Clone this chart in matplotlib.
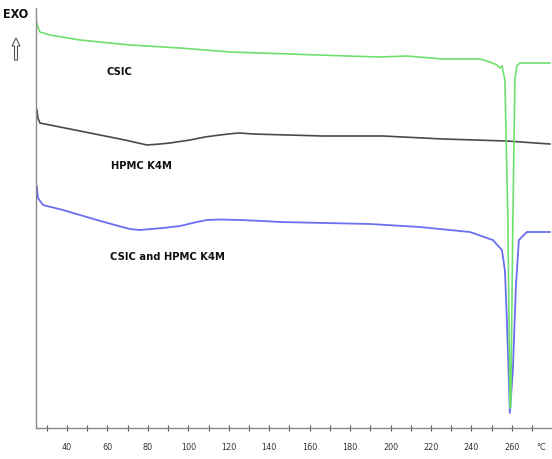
import matplotlib
matplotlib.use("Agg")
import matplotlib.pyplot as plt
from matplotlib.patches import FancyArrow

# Temperature (°C) and heat flow (arbitrary units)
csic_T = [24.68, 25.66, 26.65, 31.60, 46.43, 71.14, 95.86, 120.57, 150.23, 178.41,
          194.72, 208.07, 225.86, 244.15, 249.09, 252.56, 254.04, 255.03, 256.51,
          257.99, 258.98, 259.23, 259.47, 260.46, 261.45, 262.4, 263.92, 278.75]
csic_v = [40.8, 40.1, 39.6, 39.3, 38.8, 38.3, 38.0, 37.6, 37.4, 37.2,
          37.1, 37.2, 36.9, 36.9, 36.6, 36.3, 36.0, 36.2, 34.8,
          20.8, 2.8, 2.0, 2.8, 20.8, 34.8, 36.2, 36.5, 36.5]

hpmc_T = [25.17, 25.66, 26.65, 36.54, 56.31, 68.67, 79.55, 85.97, 90.9, 100.80,
          108.2, 115.63, 122.06, 125.5, 131.94, 166.54, 196.20, 225.86, 257.50, 278.75]
hpmc_v = [31.8, 31.0, 30.5, 30.1, 29.3, 28.8, 28.3, 28.4, 28.5, 28.8,
          29.1, 29.3, 29.45, 29.5, 29.4, 29.2, 29.2, 28.9, 28.7, 28.4]

mix_T = [25.17, 25.66, 28.14, 38.02, 54.83, 63.7, 71.14, 76.09, 87.45, 95.9,
         104.26, 109.20, 115.6, 125.5, 136.89, 145.29, 189.78, 214.50, 239.21,
         250.58, 255.03, 256.51, 257.50, 258.98, 260.46, 261.94, 263.43, 267.38, 278.75]
mix_v = [24.1, 23.0, 22.3, 21.8, 20.8, 20.3, 19.9, 19.8, 20.0, 20.2,
         20.6, 20.8, 20.85, 20.8, 20.7, 20.6, 20.4, 20.1, 19.6,
         18.8, 17.8, 15.8, 10.8, 1.5, 5.8, 14.1, 18.8, 19.6, 19.6]

tick_major = [40, 60, 80, 100, 120, 140, 160, 180, 200, 220, 240, 260]
tick_all = [30, 40, 50, 60, 70, 80, 90, 100, 110, 120, 130, 140, 150, 160, 170,
            180, 190, 200, 210, 220, 230, 240, 250, 260, 270]

W, H = 552, 459
fig = plt.figure(figsize=(W / 100, H / 100), dpi=100)
ax = fig.add_axes([36 / W, 1 - 428 / H, 1 - 36 / W, (428 - 8) / H])

ax.plot(hpmc_T, hpmc_v, color="#4a4a4a", lw=1.2)
ax.plot(mix_T, mix_v, color="#6a6ef0", lw=1.3)
ax.plot(csic_T, csic_v, color="#6ee06e", lw=1.2)

ax.set_xlim(24.7, 279.8)
ax.set_ylim(0, 42)

for s in ["top", "right"]:
    ax.spines[s].set_visible(False)
for s in ["left", "bottom"]:
    ax.spines[s].set_color("#8a8a8a")
    ax.spines[s].set_linewidth(1.0)

fam = ["DejaVu Sans"]
ax.set_yticks([])
ax.set_xticks(tick_all)
ax.set_xticklabels([str(t) if t in tick_major else "" for t in tick_all])
ax.tick_params(axis="x", direction="inout", length=5, width=0.8, color="#555555",
               labelsize=6.5, labelcolor="#333333", pad=8)
for lab in ax.get_xticklabels():
    lab.set_family(fam)
    lab.set_stretch("condensed")

lbl_font = dict(fontsize=8, fontweight="bold", color="#111111", family=fam,
                fontstretch="condensed")
ax.text(59.8, 35.6, "CSIC", va="center", ha="left", **lbl_font)
ax.text(61.7, 26.2, "HPMC K4M", va="center", ha="left", **lbl_font)
ax.text(61.3, 17.1, "CSIC and HPMC K4M", va="center", ha="left", **lbl_font)

fig.text(3 / W, 1 - 14 / H, "EXO", va="center", ha="left", fontsize=9,
         fontweight="bold", color="#111111", family=fam, fontstretch="condensed")
fig.text(541 / W, 1 - 447 / H, "°C", va="center", ha="center", fontsize=6.5,
         color="#333333", family=fam, fontstretch="condensed")

arrow = FancyArrow(0.16, (H - 60) / 100, 0, 0.22, width=0.03, head_width=0.08,
                   head_length=0.08, length_includes_head=True,
                   transform=fig.dpi_scale_trans, facecolor="white",
                   edgecolor="#555555", lw=0.8)
fig.patches.append(arrow)

fig.savefig("out.png", dpi=100)
